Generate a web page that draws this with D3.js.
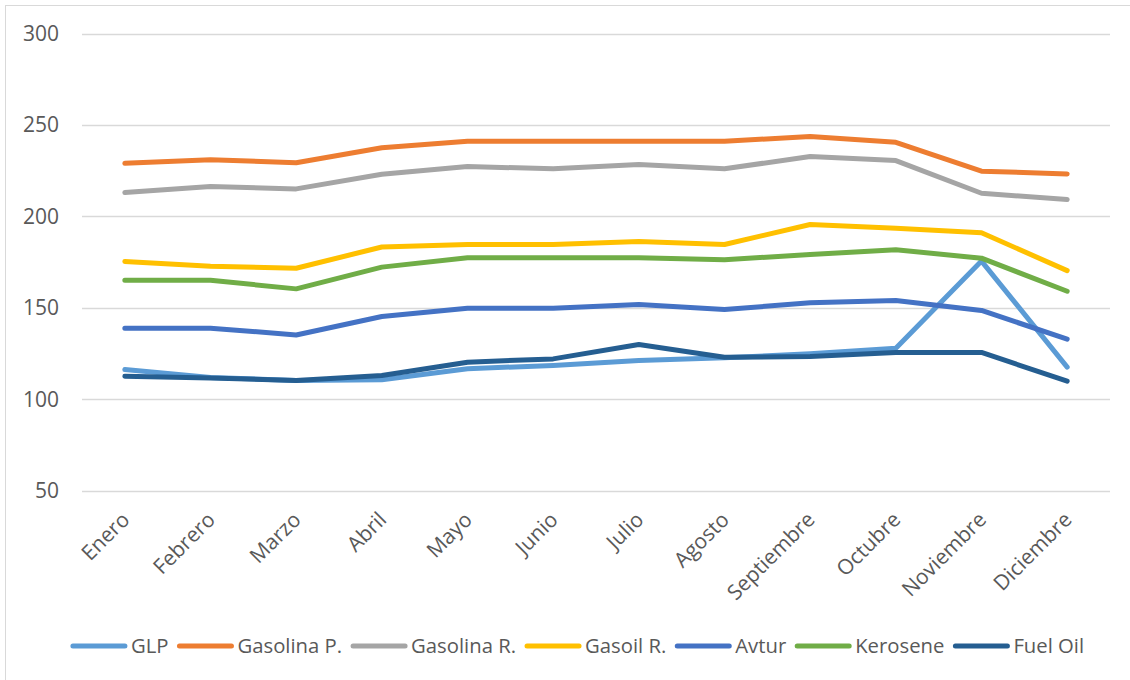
<!DOCTYPE html>
<html>
<head>
<meta charset="utf-8">
<script src="https://cdn.jsdelivr.net/npm/d3@7"></script>
<style>
  html, body { margin: 0; padding: 0; background: #fff; }
  svg { display: block; }
  text { font-family: "Open Sans", "Noto Sans", sans-serif; fill: #595959; }
</style>
</head>
<body>
<svg id="chart" width="1130" height="680"></svg>
<script>
const months = ["Enero","Febrero","Marzo","Abril","Mayo","Junio","Julio","Agosto","Septiembre","Octubre","Noviembre","Diciembre"];
const yTicks = [50, 100, 150, 200, 250, 300];

const seriesNames = ["GLP","Gasolina P.","Gasolina R.","Gasoil R.","Avtur","Kerosene","Fuel Oil"];
const seriesColors = ["#5B9BD5","#ED7D31","#A5A5A5","#FFC000","#4472C4","#70AD47","#255E91"];

const glp        = [116.2, 111.8, 110.2, 110.6, 116.6, 118.4, 121.1, 122.6, 124.8, 127.8, 175.5, 117.5];
const gasolinaP  = [229.0, 231.0, 229.3, 237.5, 241.1, 241.1, 241.1, 241.1, 243.6, 240.5, 224.7, 223.2];
const gasolinaR  = [213.0, 216.3, 215.0, 223.0, 227.2, 226.0, 228.3, 226.0, 232.7, 230.5, 212.6, 209.2];
const gasoilR    = [175.3, 172.7, 171.6, 183.2, 184.6, 184.6, 186.2, 184.6, 195.5, 193.5, 191.0, 170.3];
const avtur      = [138.8, 138.8, 135.1, 145.2, 149.7, 149.7, 151.7, 149.0, 152.7, 153.9, 148.5, 132.8];
const kerosene   = [165.0, 165.0, 160.3, 172.2, 177.3, 177.3, 177.3, 176.2, 179.1, 181.7, 177.1, 159.0];
const fuelOil    = [112.5, 111.6, 110.2, 112.9, 120.2, 122.0, 129.9, 122.9, 123.3, 125.5, 125.5, 109.8];

const seriesValues = [glp, gasolinaP, gasolinaR, gasoilR, avtur, kerosene, fuelOil];

(function () {
const svg = d3.select("#chart");

// outer chart border
svg.append("rect")
  .attr("x", 5.5).attr("y", 5.5)
  .attr("width", 1140).attr("height", 690)
  .attr("fill", "none").attr("stroke", "#D9D9D9").attr("stroke-width", 1);

const plotLeft = 82, plotRight = 1110, plotTop = 33.5, plotBottom = 490.5;

const x = d3.scalePoint().domain(months).range([plotLeft, plotRight]).padding(0.5);
const y = d3.scaleLinear().domain([50, 300]).range([plotBottom, plotTop]);

// gridlines
svg.append("g").selectAll("line").data(yTicks).join("line")
  .attr("x1", plotLeft).attr("x2", plotRight)
  .attr("y1", d => Math.round(y(d)) + 0.5).attr("y2", d => Math.round(y(d)) + 0.5)
  .attr("stroke", "#D9D9D9").attr("stroke-width", 1.3);

// y labels
svg.append("g").selectAll("text").data(yTicks).join("text")
  .attr("x", 59).attr("y", d => y(d))
  .attr("dy", "0.36em")
  .attr("text-anchor", "end")
  .attr("font-size", 21)
  .text(d => d);

// x labels, rotated
svg.append("g").selectAll("text").data(months).join("text")
  .attr("text-anchor", "end")
  .attr("font-size", 21)
  .attr("transform", d => `translate(${x(d) + 6},${521}) rotate(-45)`)
  .text(d => d);

// lines
const line = d3.line().x((d, i) => x(months[i])).y(d => y(d));
svg.append("g").selectAll("path").data(seriesValues).join("path")
  .attr("d", d => line(d))
  .attr("fill", "none")
  .attr("stroke", (d, i) => seriesColors[i])
  .attr("stroke-width", 5)
  .attr("stroke-linecap", "round")
  .attr("stroke-linejoin", "round");

// legend
const legend = svg.append("g");
const lineLen = 56, gapLT = 4, gapItem = 9, legendY = 646;
let cursor = 0;
seriesNames.forEach((name, i) => {
  const g = legend.append("g");
  g.append("line")
    .attr("x1", cursor + 2).attr("x2", cursor + lineLen - 2)
    .attr("y1", legendY).attr("y2", legendY)
    .attr("stroke", seriesColors[i]).attr("stroke-width", 5)
    .attr("stroke-linecap", "round");
  const t = g.append("text")
    .attr("x", cursor + lineLen + gapLT).attr("y", legendY)
    .attr("dy", "0.36em")
    .attr("font-size", 20.3)
    .text(name);
  const w = t.node().getComputedTextLength();
  cursor += lineLen + gapLT + w + gapItem;
});
const totalW = cursor - gapItem;
legend.attr("transform", `translate(${(71 + 1084) / 2 - totalW / 2},0)`);
})();
</script>
</body>
</html>
